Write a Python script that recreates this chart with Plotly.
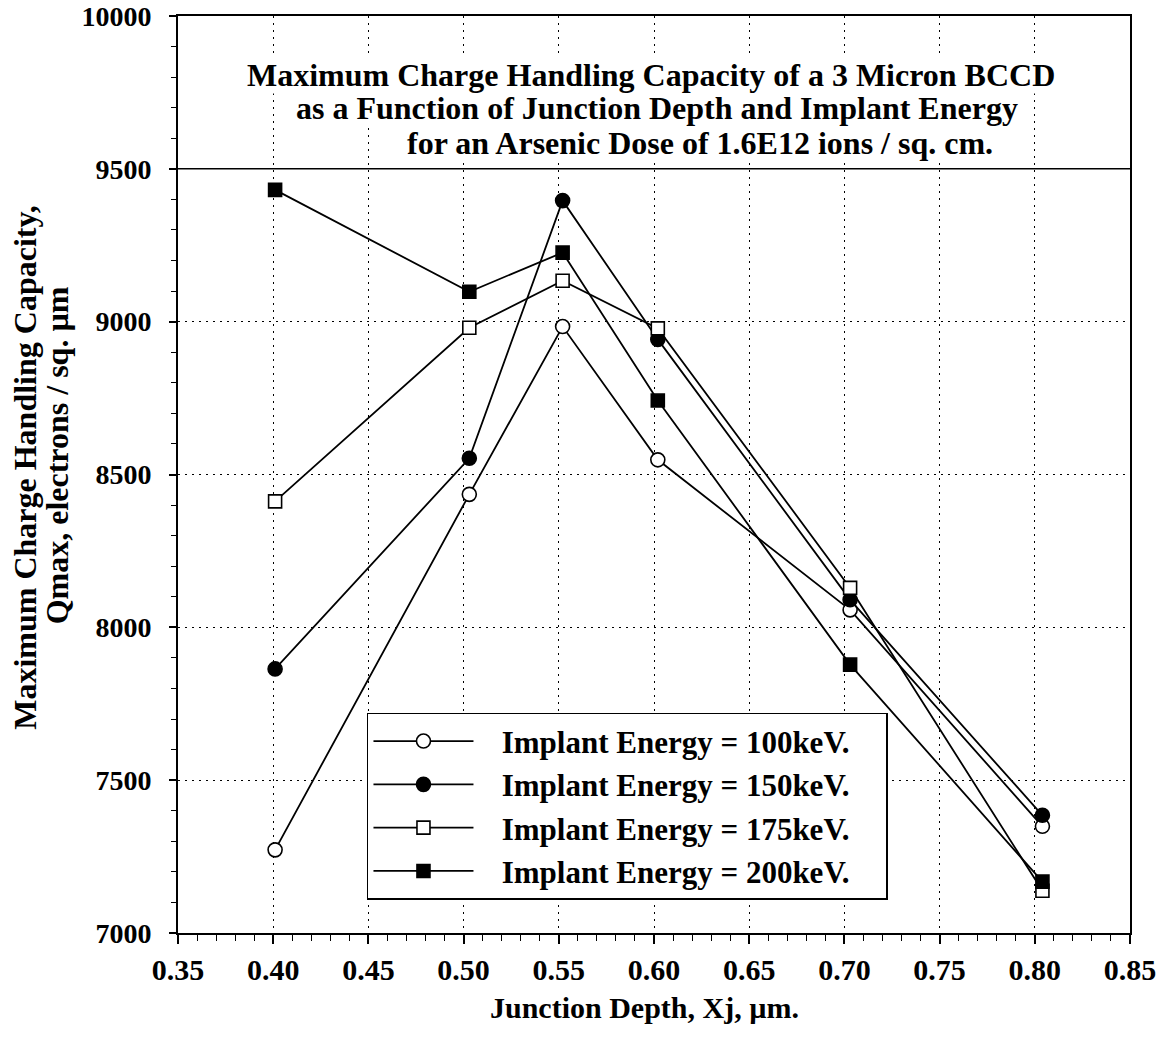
import plotly.graph_objects as go

# ---------------- data ----------------
junction_depth = [0.401, 0.503, 0.552, 0.602, 0.703, 0.804]
q_100kev = [7272, 8435, 8984, 8548, 8057, 7349]
q_150kev = [7864, 8553, 9396, 8942, 8090, 7385]
q_175kev = [8412, 8980, 9134, 8978, 8129, 7138]
q_200kev = [9431, 9098, 9226, 8742, 7878, 7168]

series_names = ["Implant Energy = 100keV.", "Implant Energy = 150keV.",
                "Implant Energy = 175keV.", "Implant Energy = 200keV."]
series_values = [q_100kev, q_150kev, q_175kev, q_200kev]

x_tick_vals = [0.35, 0.40, 0.45, 0.50, 0.55, 0.60, 0.65, 0.70, 0.75, 0.80, 0.85]
x_tick_text = ["0.35", "0.40", "0.45", "0.50", "0.55", "0.60", "0.65", "0.70", "0.75", "0.80", "0.85"]
y_tick_vals = [7000, 7500, 8000, 8500, 9000, 9500, 10000]
y_tick_text = ["7000", "7500", "8000", "8500", "9000", "9500", "10000"]
title_band_y = 9500

title_lines = ["Maximum Charge Handling Capacity of a 3 Micron BCCD",
               "as a Function of Junction Depth and Implant Energy",
               "for an Arsenic Dose of 1.6E12 ions / sq. cm."]
y_title_lines = ["Maximum Charge Handling Capacity,", "Qmax, electrons / sq. µm"]
x_title = "Junction Depth, Xj, µm."

# ---------------- style ----------------
SERIF = "Liberation Serif, Times New Roman, serif"
LEGEND_PAD_L = "\u00a0\u00a0\u00a0"
LEGEND_PAD_R = "\u00a0\u00a0\u00a0\u00a0"
marker_styles = [
    dict(symbol="circle", color="white", size=14, line=dict(color="black", width=1.6)),
    dict(symbol="circle", color="black", size=14, line=dict(color="black", width=1.6)),
    dict(symbol="square", color="white", size=13, line=dict(color="black", width=1.6)),
    dict(symbol="square", color="black", size=13, line=dict(color="black", width=1.6)),
]

fig = go.Figure()
for i, (name, vals) in enumerate(zip(series_names, series_values)):
    fig.add_trace(go.Scatter(
        x=junction_depth, y=vals, name=LEGEND_PAD_L + name + LEGEND_PAD_R,
        mode="lines+markers",
        line=dict(color="black", width=1.8),
        marker=marker_styles[i],
        legendgroup=f"g{i}",
    ))

fig.add_hline(y=title_band_y, line=dict(color="black", width=1.5), layer="below")

# title lines, drawn bottom line first so upper lines' descenders stay visible
title_x = [0.497, 0.503, 0.548]
title_y = [0.936, 0.900, 0.862]
for t, xx, yy in reversed(list(zip(title_lines, title_x, title_y))):
    fig.add_annotation(text=t, xref="paper", yref="paper", x=xx, y=yy,
                       xanchor="center", yanchor="middle", showarrow=False,
                       font=dict(family=SERIF, size=32, color="black", weight="bold"),
                       bgcolor="white", borderpad=0)

# axis titles
fig.add_annotation(text=y_title_lines[0], xref="paper", yref="paper",
                   x=-0.161, y=0.507, textangle=-90, showarrow=False,
                   xanchor="center", yanchor="middle",
                   font=dict(family=SERIF, size=32, color="black", weight="bold"))
fig.add_annotation(text=y_title_lines[1], xref="paper", yref="paper",
                   x=-0.127, y=0.521, textangle=-90, showarrow=False,
                   xanchor="center", yanchor="middle",
                   font=dict(family=SERIF, size=32, color="black", weight="bold"))
fig.add_annotation(text=x_title, xref="paper", yref="paper",
                   x=0.49, y=-0.081, showarrow=False,
                   xanchor="center", yanchor="middle",
                   font=dict(family=SERIF, size=30, color="black", weight="bold"))

grid_dash = "2px,5px"
fig.update_xaxes(
    range=[0.35, 0.85], tickvals=x_tick_vals, ticktext=x_tick_text,
    showline=True, linecolor="black", linewidth=2, mirror=True,
    ticks="outside", ticklen=9, tickwidth=1.5, tickcolor="black",
    minor=dict(dtick=0.01, ticks="outside", ticklen=6, tickwidth=1, tickcolor="black", showgrid=False),
    showgrid=True, gridcolor="black", gridwidth=1.2, griddash=grid_dash,
    tickfont=dict(family=SERIF, size=30, color="black", weight="bold"),
    zeroline=False, automargin=False,
)
fig.update_yaxes(
    range=[7000, 10000], tickvals=y_tick_vals, ticktext=y_tick_text,
    showline=True, linecolor="black", linewidth=2, mirror=True,
    ticks="outside", ticklen=7, tickwidth=1.5, tickcolor="black",
    minor=dict(dtick=100, ticks="outside", ticklen=5, tickwidth=1, tickcolor="black", showgrid=False),
    showgrid=True, gridcolor="black", gridwidth=1.2, griddash=grid_dash,
    tickfont=dict(family=SERIF, size=28, color="black", weight="bold"),
    ticklabelstandoff=12,
    zeroline=False, automargin=False,
)

fig.update_layout(
    width=1168, height=1040,
    margin=dict(l=178, r=38, t=16, b=107, autoexpand=False),
    paper_bgcolor="white", plot_bgcolor="white",
    showlegend=True,
    legend=dict(
        x=0.1985, y=0.240, xanchor="left", yanchor="top",
        bgcolor="white", bordercolor="black", borderwidth=1.5,
        font=dict(family=SERIF, size=31, color="black", weight="bold"),
        traceorder="grouped", tracegroupgap=0,
        itemwidth=100,
    ),
)

fig.write_html("out.html")
